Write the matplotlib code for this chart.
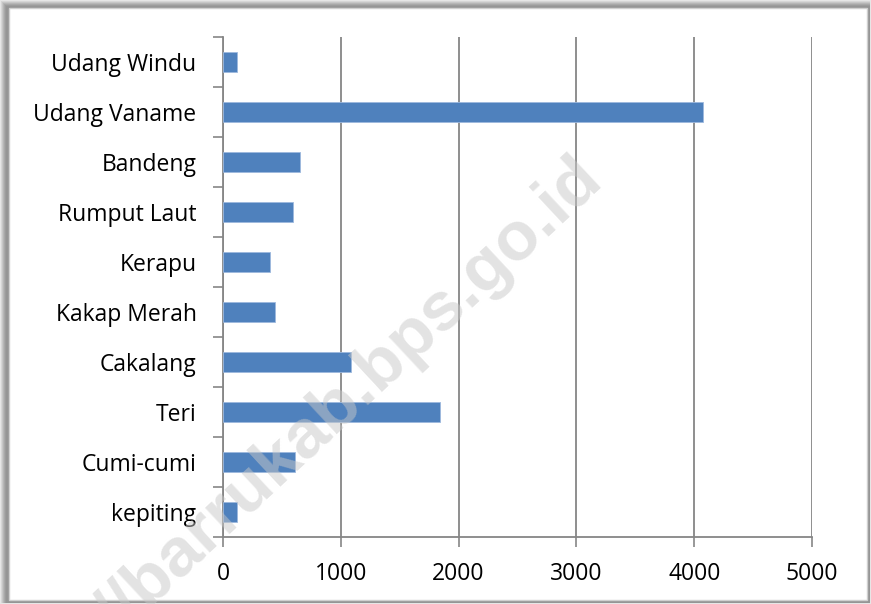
import matplotlib.pyplot as plt
import matplotlib.patches as patches
import numpy as np

plt.rcParams['font.family'] = ['Open Sans', 'DejaVu Sans']

# Data (top to bottom as shown)
categories = ['Udang Windu', 'Udang Vaname', 'Bandeng', 'Rumput Laut', 'Kerapu',
              'Kakap Merah', 'Cakalang', 'Teri', 'Cumi-cumi', 'kepiting']
values = [116, 4075, 656, 592, 402, 444, 1087, 1842, 611, 116]
x_ticks = [0, 1000, 2000, 3000, 4000, 5000]

W, H = 871, 604
fig = plt.figure(figsize=(W / 100, H / 100), dpi=100)
fig.patch.set_facecolor('#e6e6e6')


def px_rect(x0, y0, x1, y1, **kw):
    # rectangle in pixel coords measured from top-left
    return patches.Rectangle((x0 / W, 1 - y1 / H), (x1 - x0) / W, (y1 - y0) / H,
                             transform=fig.transFigure, zorder=-10, **kw)


# frame with soft shadow on top / left
shades = ['#d6d6d6', '#c6c6c6', '#b6b6b6', '#a8a8a8', '#9c9c9c', '#959595']
for i, c in enumerate(shades):
    fig.patches.append(px_rect(i + 1, i + 1, W - 1, H - 1, facecolor=c,
                               edgecolor='none'))
fig.patches.append(px_rect(9, 8, W - 4, H - 4, facecolor='white',
                           edgecolor='#d0d0d0', linewidth=1))

ax = fig.add_axes([223 / W, 1 - 537 / H, (812 - 223) / W, (537 - 37) / H])
ax.set_facecolor('none')

n = len(categories)
pos = np.arange(n)[::-1]  # first category at top
ax.barh(pos, values, height=0.4, color='#4F81BD', edgecolor='#9DB9DE',
        linewidth=0.6, zorder=3)

ax.set_xlim(0, 5000)
ax.set_ylim(-0.5, n - 0.5)
ax.set_xticks(x_ticks)
ax.set_xticklabels([str(t) for t in x_ticks], fontsize=16.5)
ax.tick_params(axis='x', length=7, width=1.2, color='#868686', pad=11)

ax.set_yticks(np.arange(n + 1) - 0.5)
ax.set_yticklabels([])
ax.tick_params(axis='y', which='major', length=7, width=1.2, color='#868686')
ax.set_yticks(pos, minor=True)
ax.set_yticklabels(categories, minor=True, fontsize=16.5)
ax.tick_params(axis='y', which='minor', length=0, pad=19)

ax.grid(axis='x', color='#868686', linewidth=1.3, zorder=0)
ax.set_axisbelow(True)
for s in ['top', 'right']:
    ax.spines[s].set_visible(False)
for s in ['left', 'bottom']:
    ax.spines[s].set_color('#868686')
    ax.spines[s].set_linewidth(1.3)

# Watermark
fig.text(592 / W, 1 - 168 / H, 'http://barrukab.bps.go.id', fontsize=50,
         fontweight='bold', color='#c8c8c8', alpha=0.5, rotation=43,
         rotation_mode='anchor', ha='right', va='center',
         family=['Liberation Sans', 'DejaVu Sans'], zorder=10)

fig.savefig('out.png', dpi=100, facecolor=fig.get_facecolor())
